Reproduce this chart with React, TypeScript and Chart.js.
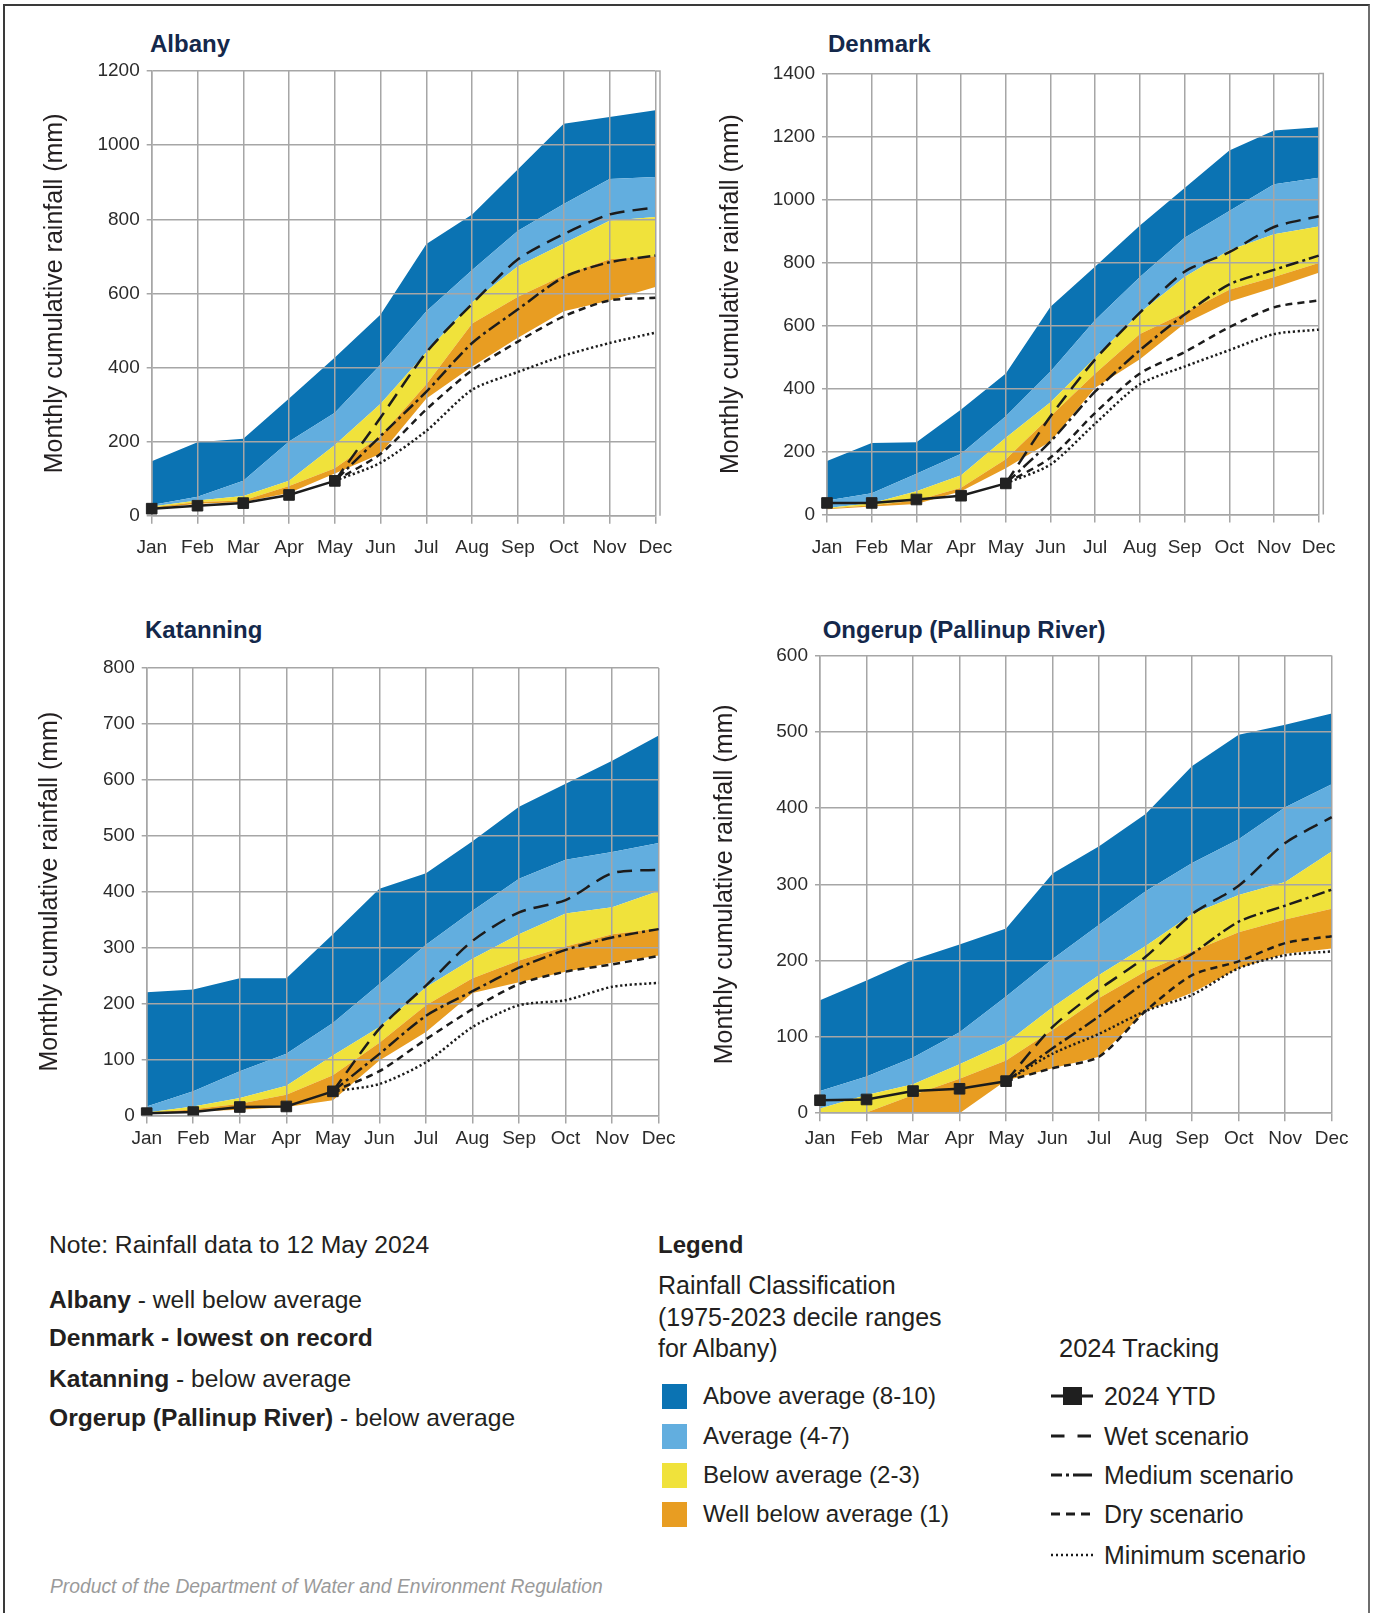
import React, { useEffect, useRef } from 'react';
import { Chart, registerables } from 'chart.js';

Chart.register(...registerables);

// ---- data -------------------------------------------------------------

const MONTHS = ['Jan', 'Feb', 'Mar', 'Apr', 'May', 'Jun', 'Jul', 'Aug', 'Sep', 'Oct', 'Nov', 'Dec'];

// Albany
const ALBANY_YTD = [19, 27, 34, 56, 94];
const ALBANY_WET = [null, null, null, null, 94, 265, 441, 572, 692, 760, 813, 832];
const ALBANY_MEDIUM = [null, null, null, null, 94, 215, 335, 466, 557, 644, 684, 702];
const ALBANY_DRY = [null, null, null, null, 94, 167, 287, 393, 470, 538, 581, 588];
const ALBANY_MIN = [null, null, null, null, 94, 143, 229, 340, 388, 432, 466, 494];
const ALBANY_D1_LOW = [19, 32, 37, 61, 114, 167, 316, 403, 480, 552, 581, 617];
const ALBANY_D1_HIGH = [22, 37, 41, 80, 128, 215, 355, 519, 591, 649, 692, 700];
const ALBANY_D3_HIGH = [25, 41, 53, 94, 191, 302, 441, 576, 673, 735, 796, 806];
const ALBANY_D7_HIGH = [29, 51, 94, 200, 278, 408, 552, 663, 769, 841, 909, 914];
const ALBANY_D10_HIGH = [147, 198, 208, 316, 427, 543, 733, 813, 935, 1058, 1076, 1094];

// Denmark
const DENMARK_YTD = [37, 37, 48, 60, 99];
const DENMARK_WET = [null, null, null, null, 99, 312, 493, 641, 771, 833, 913, 947];
const DENMARK_MEDIUM = [null, null, null, null, 99, 232, 391, 522, 635, 731, 777, 822];
const DENMARK_DRY = [null, null, null, null, 99, 181, 323, 448, 516, 595, 658, 680];
const DENMARK_MIN = [null, null, null, null, 99, 159, 289, 414, 470, 522, 573, 587];
const DENMARK_D1_LOW = [17, 26, 34, 74, 147, 232, 403, 493, 607, 676, 720, 768];
const DENMARK_D1_HIGH = [19, 30, 45, 85, 176, 312, 448, 573, 641, 714, 754, 799];
const DENMARK_D3_HIGH = [21, 36, 74, 125, 244, 357, 499, 641, 754, 839, 890, 915];
const DENMARK_D7_HIGH = [45, 68, 130, 193, 312, 454, 618, 754, 879, 964, 1049, 1069];
const DENMARK_D10_HIGH = [170, 227, 230, 334, 448, 660, 788, 918, 1037, 1156, 1219, 1230];

// Katanning
const KATANNING_YTD = [4, 6, 15, 16, 43];
const KATANNING_WET = [null, null, null, null, 43, 155, 232, 312, 363, 385, 433, 439];
const KATANNING_MEDIUM = [null, null, null, null, 43, 110, 178, 222, 264, 296, 318, 333];
const KATANNING_DRY = [null, null, null, null, 43, 79, 136, 190, 235, 257, 270, 285];
const KATANNING_MIN = [null, null, null, null, 43, 56, 95, 158, 197, 206, 230, 237];
const KATANNING_D1_LOW = [2, 7, 10, 15, 27, 98, 149, 219, 238, 257, 273, 286];
const KATANNING_D1_HIGH = [4, 11, 21, 37, 72, 130, 197, 245, 277, 302, 324, 334];
const KATANNING_D3_HIGH = [5, 16, 31, 53, 107, 158, 229, 280, 324, 361, 372, 401];
const KATANNING_D7_HIGH = [16, 43, 79, 110, 165, 235, 305, 366, 423, 457, 471, 487];
const KATANNING_D10_HIGH = [220, 225, 245, 245, 324, 405, 433, 490, 552, 593, 634, 679];

// Ongerup (Pallinup River)
const ONGERUP_YTD = [17, 18, 29, 32, 42];
const ONGERUP_WET = [null, null, null, null, 42, 113, 162, 205, 261, 298, 354, 388];
const ONGERUP_MEDIUM = [null, null, null, null, 42, 85, 127, 172, 209, 251, 272, 293];
const ONGERUP_DRY = [null, null, null, null, 42, 59, 74, 134, 181, 199, 223, 232];
const ONGERUP_MIN = [null, null, null, null, 42, 78, 104, 134, 155, 190, 207, 212];
const ONGERUP_D1_LOW = [0, 0, 0, 0, 43, 59, 74, 134, 158, 190, 209, 216];
const ONGERUP_D1_HIGH = [0, 1, 24, 45, 69, 109, 151, 186, 212, 237, 254, 268];
const ONGERUP_D3_HIGH = [6, 24, 38, 64, 92, 139, 181, 219, 261, 286, 303, 343];
const ONGERUP_D7_HIGH = [29, 48, 73, 106, 153, 202, 247, 291, 328, 359, 401, 431];
const ONGERUP_D10_HIGH = [148, 174, 201, 221, 242, 314, 350, 392, 455, 496, 509, 524];

// Axis ranges
const ALBANY_Y = { max: 1200, step: 200 };
const DENMARK_Y = { max: 1400, step: 200 };
const KATANNING_Y = { max: 800, step: 100 };
const ONGERUP_Y = { max: 600, step: 100 };

const Y_TITLE = 'Monthly cumulative rainfall (mm)';

// ---- styles -----------------------------------------------------------

const FONT = '"Liberation Sans", Arial, Helvetica, sans-serif';
const TEXT = '#231F20';
const TICK_TEXT = '#2b2b2b';
const NAVY = '#14284B';
const GRID = '#A6A6A6';
const LINE = '#1c1c1c';
const C_ABOVE = '#0B73B3';
const C_AVERAGE = '#62AEDF';
const C_BELOW = '#F0E23B';
const C_WELL_BELOW = '#E89D22';

const Y_TITLE_SIZE = 25;
const PAD_TOP = 22;
const PAD_RIGHT = 30;
const X_AXIS_H = 50;

type Station = {
  name: string;
  ytd: (number | null)[];
  wet: (number | null)[];
  medium: (number | null)[];
  dry: (number | null)[];
  min: (number | null)[];
  bands: number[][];
  y: { max: number; step: number };
};

type Frame = {
  plotLeft: number;
  plotTop: number;
  plotRight: number;
  plotBottom: number;
  yTitleX: number;
  labelPad: number;
  frameExtra: number;
  nameX: number;
  nameY: number;
};

const STATIONS: { station: Station; frame: Frame }[] = [
  {
    station: {
      name: 'Albany',
      ytd: ALBANY_YTD, wet: ALBANY_WET, medium: ALBANY_MEDIUM, dry: ALBANY_DRY, min: ALBANY_MIN,
      bands: [ALBANY_D1_LOW, ALBANY_D1_HIGH, ALBANY_D3_HIGH, ALBANY_D7_HIGH, ALBANY_D10_HIGH],
      y: ALBANY_Y,
    },
    frame: { plotLeft: 151.7, plotTop: 71.1, plotRight: 655.3, plotBottom: 515.7, yTitleX: 55, labelPad: 13, frameExtra: 4.7, nameX: 150, nameY: 44 },
  },
  {
    station: {
      name: 'Denmark',
      ytd: DENMARK_YTD, wet: DENMARK_WET, medium: DENMARK_MEDIUM, dry: DENMARK_DRY, min: DENMARK_MIN,
      bands: [DENMARK_D1_LOW, DENMARK_D1_HIGH, DENMARK_D3_HIGH, DENMARK_D7_HIGH, DENMARK_D10_HIGH],
      y: DENMARK_Y,
    },
    frame: { plotLeft: 827, plotTop: 73.6, plotRight: 1318.7, plotBottom: 514.6, yTitleX: 731, labelPad: 14, frameExtra: 4.6, nameX: 828, nameY: 44 },
  },
  {
    station: {
      name: 'Katanning',
      ytd: KATANNING_YTD, wet: KATANNING_WET, medium: KATANNING_MEDIUM, dry: KATANNING_DRY, min: KATANNING_MIN,
      bands: [KATANNING_D1_LOW, KATANNING_D1_HIGH, KATANNING_D3_HIGH, KATANNING_D7_HIGH, KATANNING_D10_HIGH],
      y: KATANNING_Y,
    },
    frame: { plotLeft: 146.7, plotTop: 667.9, plotRight: 658.7, plotBottom: 1115.4, yTitleX: 50, labelPad: 4, frameExtra: 0, nameX: 145, nameY: 630 },
  },
  {
    station: {
      name: 'Ongerup (Pallinup River)',
      ytd: ONGERUP_YTD, wet: ONGERUP_WET, medium: ONGERUP_MEDIUM, dry: ONGERUP_DRY, min: ONGERUP_MIN,
      bands: [ONGERUP_D1_LOW, ONGERUP_D1_HIGH, ONGERUP_D3_HIGH, ONGERUP_D7_HIGH, ONGERUP_D10_HIGH],
      y: ONGERUP_Y,
    },
    frame: { plotLeft: 820, plotTop: 655.4, plotRight: 1331.7, plotBottom: 1113.2, yTitleX: 725, labelPad: 6.5, frameExtra: 0, nameX: 822.7, nameY: 630 },
  },
];

// Draws the short top/right frame segment past the December grid line.
const plotFramePlugin = {
  id: 'plotFrame',
  afterDraw(chart: any, _args: any, opts: any) {
    const extra = opts && opts.extra;
    if (!extra) return;
    const { ctx, chartArea } = chart;
    const { top, bottom, right } = chartArea;
    ctx.save();
    ctx.strokeStyle = GRID;
    ctx.lineWidth = 1.5;
    ctx.beginPath();
    ctx.moveTo(right, top);
    ctx.lineTo(right + extra, top);
    ctx.lineTo(right + extra, bottom);
    ctx.stroke();
    ctx.restore();
  },
};

function scenarioLine(data: (number | null)[], dash: number[]) {
  return {
    data,
    borderColor: LINE,
    borderWidth: 2.5,
    borderDash: dash,
    borderCapStyle: 'butt',
    pointRadius: 0,
    tension: 0.25,
    fill: false,
  };
}

function band(data: number[], color: string | null) {
  return {
    data,
    borderColor: 'transparent',
    borderWidth: 0,
    pointRadius: 0,
    tension: 0,
    backgroundColor: color || 'transparent',
    fill: color ? '-1' : false,
  };
}

function StationChart({ station, frame }: { station: Station; frame: Frame }) {
  const ref = useRef<HTMLCanvasElement | null>(null);

  const titleHalf = (Y_TITLE_SIZE * 1.2) / 2;
  const canvasLeft = Math.round(frame.yTitleX - titleHalf);
  const yAxisWidth = frame.plotLeft - canvasLeft;
  const canvasTop = Math.round(frame.plotTop - PAD_TOP);
  const padTop = frame.plotTop - canvasTop;
  const width = Math.round(frame.plotRight + PAD_RIGHT - canvasLeft);
  const padRight = width - (frame.plotRight - canvasLeft);
  const height = Math.round(frame.plotBottom + X_AXIS_H - canvasTop);
  const xAxisHeight = height - (frame.plotBottom - canvasTop);

  useEffect(() => {
    const canvas = ref.current;
    if (!canvas) return;
    const [b0, b1, b2, b3, b4] = station.bands;
    const datasets: any[] = [
      {
        data: station.ytd,
        borderColor: LINE,
        borderWidth: 2.5,
        pointStyle: 'rect',
        pointRadius: 7.5,
        pointBackgroundColor: '#222222',
        pointBorderColor: '#222222',
        pointBorderWidth: 1,
        tension: 0,
        fill: false,
      },
      scenarioLine(station.wet, [15, 8]),
      scenarioLine(station.medium, [13, 4, 3, 4]),
      scenarioLine(station.dry, [7, 5]),
      scenarioLine(station.min, [2.2, 2.6]),
      band(b0, null),
      band(b1, C_WELL_BELOW),
      band(b2, C_BELOW),
      band(b3, C_AVERAGE),
      band(b4, C_ABOVE),
    ];

    const chart = new Chart(canvas, {
      type: 'line',
      data: { labels: MONTHS, datasets },
      options: {
        responsive: false,
        maintainAspectRatio: false,
        animation: false,
        events: [],
        layout: { padding: { left: 0, top: padTop, right: padRight, bottom: 0 } },
        plugins: {
          legend: { display: false },
          tooltip: { enabled: false },
          filler: { drawTime: 'beforeDraw', propagate: false },
          plotFrame: { extra: frame.frameExtra },
        } as any,
        scales: {
          x: {
            type: 'category',
            offset: false,
            grid: { color: GRID, lineWidth: 1.5, tickLength: 8, drawTicks: true },
            border: { color: GRID, width: 1.5 },
            ticks: {
              color: TICK_TEXT,
              font: { family: FONT, size: 19 },
              padding: frame.labelPad,
              maxRotation: 0,
              autoSkip: false,
            },
            afterFit: (s: any) => {
              s.height = xAxisHeight;
              s.paddingLeft = 0;
              s.paddingRight = 0;
            },
          },
          y: {
            min: 0,
            max: station.y.max,
            grid: { color: GRID, lineWidth: 1.5, tickLength: 5 },
            border: { color: GRID, width: 1.5 },
            ticks: {
              stepSize: station.y.step,
              color: TICK_TEXT,
              font: { family: FONT, size: 19 },
              padding: 7,
              callback: (v: any) => String(v),
            },
            title: {
              display: true,
              text: Y_TITLE,
              color: TEXT,
              font: { family: FONT, size: Y_TITLE_SIZE },
              padding: 0,
            },
            afterFit: (s: any) => {
              s.width = yAxisWidth;
              s.paddingTop = 0;
              s.paddingBottom = 0;
            },
          },
        },
      } as any,
      plugins: [plotFramePlugin],
    });
    return () => chart.destroy();
  }, []);

  return (
    <>
      <div
        style={{
          position: 'absolute',
          left: frame.nameX,
          top: frame.nameY - 14,
          fontFamily: FONT,
          fontWeight: 'bold',
          fontSize: 24,
          lineHeight: '28px',
          color: NAVY,
          whiteSpace: 'nowrap',
        }}
      >
        {station.name}
      </div>
      <canvas
        ref={ref}
        width={width}
        height={height}
        style={{ position: 'absolute', left: canvasLeft, top: canvasTop, width, height }}
      />
    </>
  );
}

// ---- text blocks ------------------------------------------------------

const NOTE_TEXT = 'Note: Rainfall data to 12 May 2024';
const STATUS_ROWS = [
  { bold: 'Albany', rest: ' - well below average' },
  { bold: 'Denmark - lowest on record', rest: '' },
  { bold: 'Katanning', rest: ' - below average' },
  { bold: 'Orgerup (Pallinup River)', rest: ' - below average' },
];
const CLASS_LINES = ['Rainfall Classification', '(1975-2023 decile ranges', 'for Albany)'];
const CLASS_ITEMS = [
  { label: 'Above average (8-10)', color: C_ABOVE },
  { label: 'Average (4-7)', color: C_AVERAGE },
  { label: 'Below average (2-3)', color: C_BELOW },
  { label: 'Well below average (1)', color: C_WELL_BELOW },
];
const TRACK_ITEMS = [
  { label: '2024 YTD', kind: 'ytd' },
  { label: 'Wet scenario', kind: 'wet' },
  { label: 'Medium scenario', kind: 'medium' },
  { label: 'Dry scenario', kind: 'dry' },
  { label: 'Minimum scenario', kind: 'min' },
];
const FOOTER = 'Product of the Department of Water and Environment Regulation';

const textStyle = (left: number, cy: number, size = 24, extra: any = {}) => ({
  position: 'absolute' as const,
  left,
  top: cy - 14,
  fontFamily: FONT,
  fontSize: size,
  lineHeight: '28px',
  color: TEXT,
  whiteSpace: 'nowrap' as const,
  ...extra,
});

function TrackSample({ kind }: { kind: string }) {
  const w = 44;
  const h = 20;
  const y = h / 2;
  let content: any = null;
  if (kind === 'ytd') {
    content = (
      <>
        <line x1={0} y1={y} x2={42} y2={y} stroke={LINE} strokeWidth={3} />
        <rect x={12} y={y - 9} width={19} height={18} fill="#1f1f1f" />
      </>
    );
  } else if (kind === 'wet') {
    content = <line x1={0} y1={y} x2={41} y2={y} stroke={LINE} strokeWidth={3} strokeDasharray="13.5 13" />;
  } else if (kind === 'medium') {
    content = <line x1={0} y1={y} x2={41} y2={y} stroke={LINE} strokeWidth={3} strokeDasharray="11 4 3 4 19" />;
  } else if (kind === 'dry') {
    content = <line x1={0} y1={y} x2={41} y2={y} stroke={LINE} strokeWidth={3} strokeDasharray="9 6" />;
  } else {
    content = <line x1={0} y1={y} x2={43} y2={y} stroke={LINE} strokeWidth={2.5} strokeDasharray="2 3" />;
  }
  return (
    <svg width={w} height={h} style={{ position: 'absolute', left: 0, top: -h / 2 }}>
      {content}
    </svg>
  );
}

export default function App() {
  const rowY = [1396, 1436, 1475, 1514, 1555];
  const statusY = [1300, 1338, 1379, 1418];
  const classY = [1285, 1317, 1348];

  return (
    <div
      style={{
        position: 'absolute',
        left: 0,
        top: 0,
        width: 1375,
        height: 1613,
        overflow: 'hidden',
        background: '#ffffff',
        fontFamily: FONT,
      }}
    >
      <div
        style={{
          position: 'absolute',
          left: 3,
          top: 4,
          width: 1367,
          height: 1700,
          boxSizing: 'border-box',
          borderLeft: '2px solid #3a3a3a',
          borderTop: '2px solid #3a3a3a',
          borderRight: '2px solid #6e6e6e',
        }}
      />

      {STATIONS.map((s) => (
        <StationChart key={s.station.name} station={s.station} frame={s.frame} />
      ))}

      <div style={textStyle(49, 1245, 24.7)}>{NOTE_TEXT}</div>
      {STATUS_ROWS.map((r, i) => (
        <div key={r.bold} style={textStyle(49, statusY[i], 24.6)}>
          <b>{r.bold}</b>
          {r.rest}
        </div>
      ))}

      <div style={textStyle(658, 1245, 24, { fontWeight: 'bold' })}>Legend</div>
      {CLASS_LINES.map((t, i) => (
        <div key={t} style={textStyle(658, classY[i], 25)}>
          {t}
        </div>
      ))}
      <div style={textStyle(1059, 1348, 25.5)}>2024 Tracking</div>

      {CLASS_ITEMS.map((c, i) => (
        <React.Fragment key={c.label}>
          <div
            style={{
              position: 'absolute',
              left: 662,
              top: rowY[i] - 12.5,
              width: 25,
              height: 25,
              background: c.color,
            }}
          />
          <div style={textStyle(703, rowY[i], 24.1)}>{c.label}</div>
        </React.Fragment>
      ))}

      {TRACK_ITEMS.map((t, i) => (
        <React.Fragment key={t.label}>
          <div style={{ position: 'absolute', left: 1051, top: rowY[i], width: 0, height: 0 }}>
            <TrackSample kind={t.kind} />
          </div>
          <div style={textStyle(1104, rowY[i], 24.9)}>{t.label}</div>
        </React.Fragment>
      ))}

      <div
        style={{
          position: 'absolute',
          left: 50,
          top: 1587 - 12,
          fontFamily: FONT,
          fontStyle: 'italic',
          fontSize: 19.3,
          lineHeight: '24px',
          color: '#9a9a9a',
          whiteSpace: 'nowrap',
        }}
      >
        {FOOTER}
      </div>
    </div>
  );
}
